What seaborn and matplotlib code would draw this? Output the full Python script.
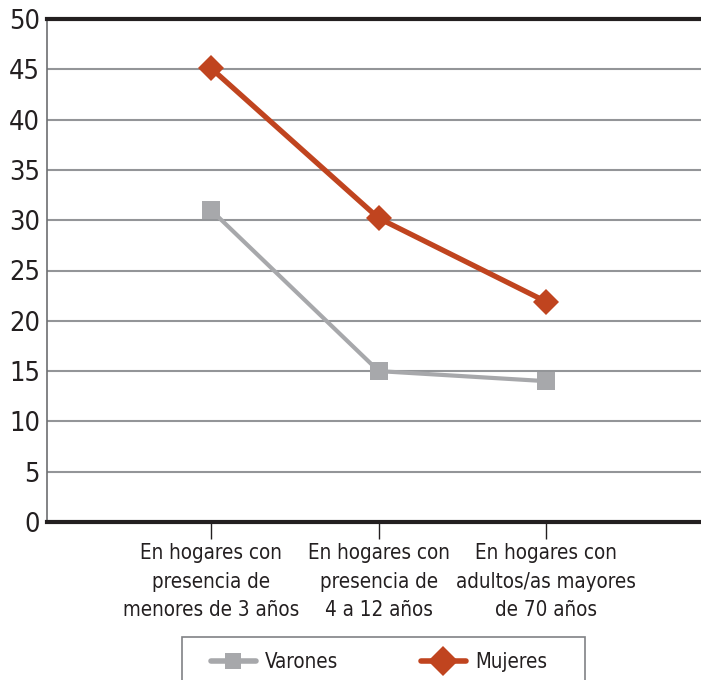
import pandas as pd
import numpy as np
import matplotlib
matplotlib.use('Agg')
import matplotlib.pyplot as plt
import seaborn as sns
from matplotlib.lines import Line2D
from matplotlib.patches import Rectangle

# ---------- DATA ----------
categorias = [
    'En hogares con\npresencia de\nmenores de 3 años',
    'En hogares con\npresencia de\n4 a 12 años',
    'En hogares con\nadultos/as mayores\nde 70 años',
]
varones = [31.0, 15.0, 14.0]
mujeres = [45.1, 30.2, 21.9]
y_ticks = [0, 5, 10, 15, 20, 25, 30, 35, 40, 45, 50]

df = pd.DataFrame({
    'categoria': categorias * 2,
    'valor': varones + mujeres,
    'sexo': ['Varones'] * 3 + ['Mujeres'] * 3,
})

# ---------- STYLE ----------
sns.set_style('white')
plt.rcParams['font.family'] = ['DejaVu Sans Condensed', 'Liberation Sans Narrow', 'DejaVu Sans']
plt.rcParams['font.stretch'] = 'condensed'

col_gris = '#A7A8AB'
col_rojo = '#C0441F'
col_grid = '#939598'
col_negro = '#231F20'

fig = plt.figure(figsize=(7.01, 6.80), dpi=100)
ax = fig.add_axes([47 / 701, 1 - 522 / 680, 1 - 47 / 701, (522 - 19) / 680])

sns.lineplot(data=df, x='categoria', y='valor', hue='sexo', style='sexo',
             palette={'Varones': col_gris, 'Mujeres': col_rojo},
             markers={'Varones': 's', 'Mujeres': 'D'}, dashes=False,
             linewidth=3.4, markeredgewidth=0, ax=ax, legend=False, zorder=3)

# marker sizes differ per series
for line in ax.lines:
    if line.get_marker() == 's':
        line.set_markersize(13)
        line.set_linewidth(3.0)
    elif line.get_marker() == 'D':
        line.set_markersize(13)
        line.set_linewidth(3.8)

ax.set_ylim(0, 50)
ax.set_xlim(-0.98, -0.98 + (701 - 47) / 167.5)
ax.set_yticks(y_ticks)
ax.set_yticklabels([str(t) for t in y_ticks], fontsize=19.5, color=col_negro)
ax.tick_params(axis='y', left=False, length=0, pad=5)
ax.tick_params(axis='x', bottom=True, direction='out', length=12, width=1,
               color=col_negro, labelsize=14.8, labelcolor=col_negro, pad=3)
ax.set_xlabel('')
ax.set_ylabel('')

for t in y_ticks[1:-1]:
    ax.axhline(t, color=col_grid, lw=1.5, zorder=1)

ax.spines['top'].set_color(col_negro)
ax.spines['top'].set_linewidth(3)
ax.spines['bottom'].set_color(col_negro)
ax.spines['bottom'].set_linewidth(3)
ax.spines['left'].set_color('#6D6E71')
ax.spines['left'].set_linewidth(1.2)
ax.spines['right'].set_visible(False)
for spine in ax.spines.values():
    spine.set_zorder(4)

for lbl in ax.get_xticklabels():
    lbl.set_linespacing(1.55)

# ---------- LEGEND ----------
# frame drawn separately so it can run off the bottom edge like the original
fig.patches.append(Rectangle((182 / 701, -0.05), (585 - 182) / 701, 0.05 + 1 - 637 / 680,
                             transform=fig.transFigure, fill=False,
                             edgecolor='#808285', linewidth=1.2))
handles = [
    Line2D([0], [0], color=col_gris, lw=4, marker='s', markersize=12,
           markeredgewidth=0),
    Line2D([0], [0], color=col_rojo, lw=4, marker='D', markersize=15,
           markeredgewidth=0),
]
leg = fig.legend(handles, ['Varones', 'Mujeres'], loc='center',
                 bbox_to_anchor=(379 / 701, 1 - 662 / 680), ncol=2,
                 fontsize=14.8, frameon=False,
                 handlelength=2.2, handletextpad=0.45, columnspacing=4.0,
                 borderpad=0, borderaxespad=0)
for txt in leg.get_texts():
    txt.set_color(col_negro)

fig.savefig('out.png', dpi=100)
